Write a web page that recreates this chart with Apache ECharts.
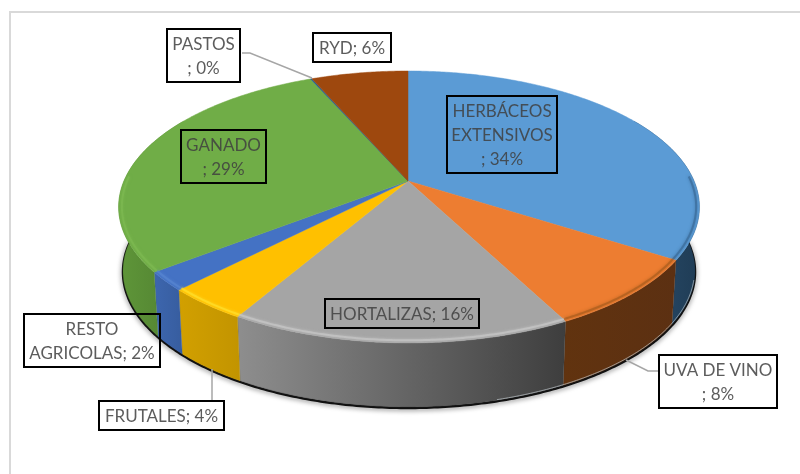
<!DOCTYPE html>
<html><head><meta charset="utf-8">
<style>html,body{margin:0;padding:0;background:#fff}#c{width:800px;height:474px}</style>
<script src="https://cdn.jsdelivr.net/npm/echarts@6/dist/echarts.min.js"></script>
</head><body><div id="c"></div>
<script>
const categories = ['HERBÁCEOS EXTENSIVOS','UVA DE VINO','HORTALIZAS','FRUTALES','RESTO AGRICOLAS','GANADO','PASTOS','RYD'];
const values = [34.1, 8.3, 15.9, 3.9, 2.2, 28.9, 0.1, 6.5];
const labelTexts = ['HERBÁCEOS\nEXTENSIVOS\n; 34%','UVA DE VINO\n; 8%','HORTALIZAS; 16%','FRUTALES; 4%','RESTO\nAGRICOLAS; 2%','GANADO\n; 29%','PASTOS\n; 0%','RYD; 6%'];
const topColors = ['#5b9bd5','#ed7d31','#a5a5a5','#ffc000','#4472c4','#70ad47','#255e91','#9e480e'];

// styling and layout (not data)
const wallFills = [
  ['#2b4e6e','#1f3c55'],['#61330f','#5c3012'],['#8e8e8e','#3e3e3e'],['#d2a000','#c29400'],
  ['#3d66ae','#375d9f'],['#5f9639','#4f7f30'],['#1a4468','#1a4468'],['#6a300a','#6a300a']];
const rimColors = ['#3d6f9e','#b0601f','#c4c4c4','#ffdc28','#5583d0','#7cb850','#255e91','#9e480e'];
const boxes = [[446,95,112,79,0],[658,354,120,55,1],[324,298,156,31,0],[98,400,127,31,1],[23,313,138,55,0],[180,129,87,55,0],[166,28,75,55,1],[312,32,80,31,1]];
const leaders = [null,[[658,371],[648,371],[626,360]],null,[[212,400],[212,369]],null,null,[[242,53],[250,53],[312,78]],null];
const CX=408, CY=181, A_RIGHT=286, A_LEFT=284, B=131, K=0.191, DEPTH=64, SHR=0.985;
const total = values.reduce((a,b)=>a+b,0);
const pt = th => { const u=Math.sin(th), v=Math.cos(th), w=1+K*v; return [CX+(u<0?A_LEFT:A_RIGHT)*u/w, CY-B*v/w]; };
const low = p => [CX+(p[0]-CX)*SHR, p[1]+DEPTH];
const startAngle = i => values.slice(0,i).reduce((a,b)=>a+b,0)/total*2*Math.PI;
const arc = (a,b,n) => { const r=[]; for(let j=0;j<=n;j++) r.push(pt(a+(b-a)*j/n)); return r; };
const D2R=Math.PI/180, VIS0=60*D2R, VIS1=300*D2R;

const topSeries = { type:'custom', coordinateSystem:'none', z:3, silent:true, data:values.map(v=>[v]),
  renderItem(p,api){
    const i=p.dataIndex, a=startAngle(i), b=a+api.value(0)/total*2*Math.PI;
    const n=Math.max(2,Math.ceil((b-a)/0.01));
    return {type:'polygon',shape:{points:[[CX,CY],...arc(a,b,n)]},style:{fill:topColors[i],stroke:topColors[i],lineWidth:0.5}};
  }};
const wallSeries = { type:'custom', coordinateSystem:'none', z:2, silent:true, data:values.map(v=>[v]),
  renderItem(p,api){
    const i=p.dataIndex; let a=startAngle(i), b=a+api.value(0)/total*2*Math.PI;
    a=Math.max(a,VIS0); b=Math.min(b,VIS1);
    if(b<=a) return null;
    const up=arc(a,b,Math.ceil((b-a)/0.01)), dn=up.map(low).reverse();
    return {type:'polygon',shape:{points:[...up,...dn]},style:{
      fill:new echarts.graphic.LinearGradient(0,0,1,0,[{offset:0,color:wallFills[i][0]},{offset:1,color:wallFills[i][1]}]),
      stroke:wallFills[i][1],lineWidth:0.3}};
  }};
const rimSeries = { type:'custom', coordinateSystem:'none', z:4, silent:true, data:values.map(v=>[v]),
  renderItem(p,api){
    const i=p.dataIndex; let a=startAngle(i), b=a+api.value(0)/total*2*Math.PI;
    a=Math.max(a,88*D2R); b=Math.min(b,272*D2R);
    if(b<=a) return null;
    const pts=arc(a,b,Math.ceil((b-a)/0.01)).map(q=>[CX+(q[0]-CX)*0.989,CY+(q[1]-CY)*0.984]);
    return {type:'polyline',shape:{points:pts},style:{fill:null,stroke:rimColors[i],lineWidth:2,opacity:0.8,shadowBlur:3,shadowColor:rimColors[i]}};
  }};
const shadowSeries = { type:'custom', coordinateSystem:'none', z:1, silent:true, data:[[0]],
  renderItem(){
    const pts=arc(88*D2R,272*D2R,300).map(low).map(q=>[q[0],q[1]+1]);
    return {type:'polyline',shape:{points:pts},style:{fill:null,stroke:'#111',lineWidth:2.5,shadowBlur:5,shadowColor:'rgba(0,0,0,0.6)',shadowOffsetY:1}};
  }};
const edgeSeries = { type:'custom', coordinateSystem:'none', z:2.5, silent:true, data:[[0]],
  renderItem(){
    const pts=arc(105*D2R,165*D2R,120).map(low).map(q=>[q[0]-0.5,q[1]-0.5]);
    return {type:'polyline',shape:{points:pts},style:{fill:null,stroke:'#c8d0d4',lineWidth:0.8,opacity:0.8}};
  }};
const labelSeries = { type:'custom', coordinateSystem:'none', z:6, silent:true, data:values.map(v=>[v]),
  renderItem(p){
    const i=p.dataIndex, r=boxes[i], kids=[];
    if(leaders[i]) kids.push({type:'polyline',shape:{points:leaders[i]},style:{fill:null,stroke:'#a6a6a6',lineWidth:1.5}});
    kids.push({type:'rect',shape:{x:r[0]+1,y:r[1]+1,width:r[2]-2,height:r[3]-2},style:{fill:r[4]?'#fff':'transparent',stroke:'#000',lineWidth:2}});
    kids.push({type:'text',style:{text:labelTexts[i],x:r[0]+r[2]/2,y:r[1]+r[3]/2+1,align:'center',verticalAlign:'middle',
      font:'17px Lato',lineHeight:24,fill:'rgba(64,64,64,0.85)'}});
    return {type:'group',children:kids};
  }};

const chart = echarts.init(document.getElementById('c'),null,{renderer:'canvas'});
chart.setOption({
  animation:false, backgroundColor:'#fff',
  graphic:[{type:'rect',z:0,shape:{x:10,y:12,width:830,height:500},style:{fill:'#fff',stroke:'#d9d9d9',lineWidth:2}}],
  series:[shadowSeries,wallSeries,edgeSeries,topSeries,rimSeries,labelSeries]
});
</script></body></html>
